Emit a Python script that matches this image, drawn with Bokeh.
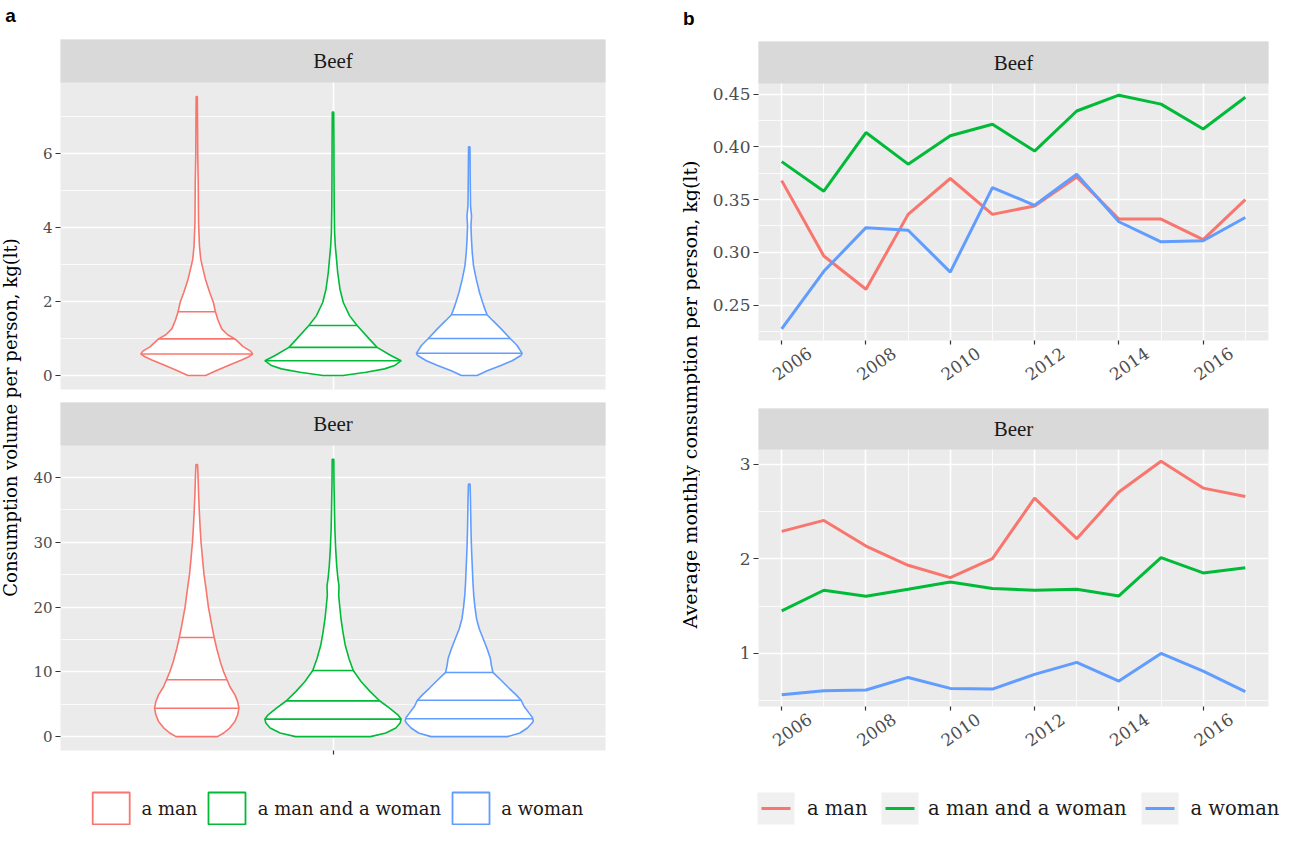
import numpy as np
from bokeh.plotting import figure
from bokeh.models import Range1d, LinearAxis, FixedTicker, Grid
from bokeh.layouts import column, row
from bokeh.embed import file_html
from bokeh.resources import INLINE
from bokeh.core.properties import value

# ---------------- data ----------------
groups = ["a man", "a man and a woman", "a woman"]
colors = ["#F8766D", "#00BA38", "#619CFF"]
products = ["Beef", "Beer"]

# panel b: average monthly consumption per person
years = [2006, 2007, 2008, 2009, 2010, 2011, 2012, 2013, 2014, 2015, 2016, 2017]
beef_man = [0.368, 0.2965, 0.265, 0.336, 0.370, 0.336, 0.344, 0.3715, 0.3315, 0.3315, 0.312, 0.350]
beef_couple = [0.386, 0.358, 0.4136, 0.3836, 0.4105, 0.4215, 0.396, 0.434, 0.449, 0.4405, 0.417, 0.447]
beef_woman = [0.2275, 0.282, 0.3234, 0.321, 0.2813, 0.3614, 0.3446, 0.374, 0.329, 0.310, 0.311, 0.333]
beer_man = [2.292, 2.408, 2.137, 1.933, 1.803, 2.003, 2.644, 2.215, 2.708, 3.035, 2.750, 2.662]
beer_couple = [1.451, 1.669, 1.606, 1.680, 1.757, 1.687, 1.669, 1.680, 1.609, 2.014, 1.852, 1.908]
beer_woman = [0.562, 0.606, 0.613, 0.746, 0.630, 0.623, 0.778, 0.905, 0.708, 1.000, 0.813, 0.595]

# panel a: violin density profiles (consumption level, relative density)
beef_man_y = [0, 0.15, 0.3, 0.42, 0.5, 0.58, 0.66, 0.78, 0.99, 1.1, 1.26, 1.5, 1.72, 1.97, 2.24,
              2.6, 2.96, 3.14, 3.5, 4.13, 4.75, 5.2, 5.9, 6.8, 7.53]
beef_man_d = [8.8, 21, 34, 45, 51.5, 56, 54, 46.5, 38.3, 31, 25, 21.3, 18.7, 16.7, 13,
              8.7, 5.5, 4.0, 2.7, 1.8, 1.6, 1.5, 1.0, 0.8, 0.6]
beef_couple_y = [0, 0.09, 0.18, 0.27, 0.40, 0.54, 0.76, 0.99, 1.35, 1.61, 1.97, 2.33, 2.78, 3.14,
                 3.5, 3.86, 4.57, 5.47, 6.37, 7.11]
beef_couple_d = [10, 33, 51.7, 61.7, 68.3, 58, 44.2, 36.3, 24.2, 16.7, 10.3, 7, 4.7, 3.5,
                 2.3, 1.6, 1.2, 1.0, 0.9, 0.7]
beef_woman_y = [0, 0.13, 0.27, 0.40, 0.54, 0.60, 0.81, 1.0, 1.26, 1.48, 1.64, 1.88, 2.24, 2.6,
                2.96, 3.32, 3.68, 4.04, 4.3, 4.57, 5.2, 6.17]
beef_woman_d = [7.8, 18, 31.7, 43, 51.7, 53, 48, 41, 32, 23.7, 17.8, 14.5, 10.3, 7,
                4.3, 3, 2.2, 1.7, 2.3, 1.3, 1.0, 0.7]
beer_man_y = [0, 0.56, 1.33, 2.35, 3.37, 4.39, 5.4, 6.44, 7.7, 8.79, 10.0, 11.5, 13.6, 15.3,
              17.2, 20, 22.8, 25, 27.4, 30, 32.5, 35, 37.6, 40.2, 42.0]
beer_man_d = [20.8, 27, 33, 38.3, 41, 42.3, 41, 38.3, 33.3, 30.3, 27, 23.7, 20, 17.5,
              15, 11.7, 9.3, 7.3, 5.8, 4.3, 3.3, 2.5, 1.8, 1.3, 0.8]
beer_couple_y = [0, 0.56, 1.33, 2.1, 2.71, 3.37, 4.39, 5.5, 6.95, 8.48, 10.2, 12.06, 14.1, 16.1,
                 18.2, 20.2, 21.8, 23.3, 24.3, 26.4, 28.9, 31.5, 34, 36.6, 39.1, 42.8]
beer_couple_d = [37.5, 53, 63, 67.3, 68.3, 65, 56.7, 47, 37.3, 28.3, 20.3, 16, 12.3, 10,
                 8, 6.7, 5.7, 6.0, 5.0, 3.7, 2.7, 2.0, 1.6, 1.3, 1.0, 0.8]
beer_woman_y = [0, 0.56, 1.33, 2.1, 2.45, 2.96, 3.63, 4.65, 5.62, 6.44, 7.46, 8.74, 9.91, 11.0,
                12.06, 13.6, 15.1, 16.65, 18.2, 20, 21.8, 23.8, 26.4, 28.9, 31.5, 34, 36.6, 39.0]
beer_woman_d = [38.3, 50.8, 58.3, 63, 64.2, 63.3, 60, 55, 52, 47, 40, 31.7, 23.7, 22.2,
                21.2, 17.8, 14, 10, 7.3, 5.7, 4.5, 3.7, 3.0, 2.3, 1.8, 1.5, 1.2, 0.8]
# quartiles (25%, 50%, 75%)
beef_quartiles = [[0.58, 0.99, 1.72], [0.40, 0.76, 1.35], [0.60, 1.00, 1.64]]
beer_quartiles = [[4.39, 8.79, 15.3], [2.71, 5.52, 10.2], [2.76, 5.62, 9.91]]

# tick labels
a_beef_ticks = [0, 2, 4, 6]
a_beef_labels = ["0", "2", "4", "6"]
a_beef_minor = [1, 3, 5, 7]
a_beer_ticks = [0, 10, 20, 30, 40]
a_beer_labels = ["0", "10", "20", "30", "40"]
a_beer_minor = [5, 15, 25, 35]
b_beef_ticks = [0.25, 0.30, 0.35, 0.40, 0.45]
b_beef_labels = ["0.25", "0.30", "0.35", "0.40", "0.45"]
b_beef_minor = [0.225, 0.275, 0.325, 0.375, 0.425]
b_beer_ticks = [1, 2, 3]
b_beer_labels = ["1", "2", "3"]
b_beer_minor = [0.5, 1.5, 2.5]
year_ticks = [2006, 2008, 2010, 2012, 2014, 2016]
year_labels = ["2006", "2008", "2010", "2012", "2014", "2016"]
year_minor = [2007, 2009, 2011, 2013, 2015, 2017]

y_title_a = "Consumption volume per person, kg(lt)"
y_title_b = "Average monthly consumption per person, kg(lt)"

# ---------------- style ----------------
SERIF = "DejaVu Serif"
STRIP_FONT = "Liberation Serif"
PANEL_BG = "#EBEBEB"
STRIP_BG = "#D9D9D9"


def expand(lo, hi, f=0.05):
    r = hi - lo
    return lo - f * r, hi + f * r


def base_fig(w, h, xr, yr, mb):
    p = figure(width=w, height=h, x_range=xr, y_range=yr, x_axis_type=None, y_axis_type=None,
               title=None, output_backend="svg", toolbar_location=None,
               min_border_left=mb[0], min_border_right=mb[1],
               min_border_top=mb[2], min_border_bottom=mb[3])
    p.outline_line_color = None
    p.border_fill_color = "white"
    return p


def facet(w, h, xr, lo, hi, mb, strip_px, label):
    frame_h = h - mb[2] - mb[3]
    panel_h = frame_h - strip_px
    top = hi + strip_px * (hi - lo) / panel_h
    p = base_fig(w, h, xr, Range1d(lo, top), mb)
    p.background_fill_color = PANEL_BG
    p.quad(left=[xr.start], right=[xr.end], bottom=[hi], top=[top],
           fill_color=STRIP_BG, line_color=None, level="annotation")
    p.text(x=[(xr.start + xr.end) / 2], y=[(hi + top) / 2], text=[label],
           text_font=value(STRIP_FONT), text_font_size=value("21px"), text_color="#1A1A1A",
           text_align="center", text_baseline="middle", level="annotation")
    return p


def add_grid(p, dim, ticks, minor):
    p.add_layout(Grid(dimension=dim, ticker=FixedTicker(ticks=ticks, minor_ticks=minor),
                      grid_line_color="white", grid_line_width=1.6,
                      minor_grid_line_color="white", minor_grid_line_width=0.8), "center")


def add_yaxis(p, ticks, labels, size):
    ax = LinearAxis(ticker=FixedTicker(ticks=ticks), major_label_overrides=dict(zip(ticks, labels)),
                    axis_line_color=None, major_tick_line_color="#333333", major_tick_line_width=1.2,
                    major_tick_out=5, major_tick_in=0, minor_tick_line_color=None,
                    major_label_standoff=3, major_label_text_font=SERIF,
                    major_label_text_font_size=size, major_label_text_color="#4D4D4D")
    p.add_layout(ax, "left")


def add_year_axes(p, xlo, xhi, shift):
    main = LinearAxis(ticker=FixedTicker(ticks=year_ticks),
                      major_label_overrides={t: "" for t in year_ticks},
                      axis_line_color=None, major_tick_line_color="#333333", major_tick_line_width=1.2,
                      major_tick_out=4, major_tick_in=0, minor_tick_line_color=None,
                      major_label_standoff=0, major_label_text_font_size="0px")
    p.add_layout(main, "below")
    p.extra_x_ranges = {"lbl": Range1d(xlo - shift, xhi - shift)}
    lab = LinearAxis(x_range_name="lbl", ticker=FixedTicker(ticks=year_ticks),
                     major_label_overrides=dict(zip(year_ticks, year_labels)),
                     axis_line_color=None, major_tick_line_color=None, major_tick_out=0,
                     major_tick_in=0, minor_tick_line_color=None, major_label_standoff=7,
                     major_label_orientation=np.radians(35), major_label_text_font=SERIF,
                     major_label_text_font_size="17px", major_label_text_color="#4D4D4D")
    p.add_layout(lab, "below")


def draw_violin(p, center, ys, ds, dmax, quarts, color):
    ys = np.asarray(ys, float)
    w = np.asarray(ds, float) / dmax * 0.15
    xs = np.concatenate([center - w, (center + w)[::-1]])
    yy = np.concatenate([ys, ys[::-1]])
    p.patch(xs, yy, fill_color="white", line_color=color, line_width=1.6)
    q = np.asarray(quarts, float)
    qw = np.interp(q, ys, w)
    p.segment(x0=center - qw, y0=q, x1=center + qw, y1=q, line_color=color, line_width=1.6)


# ---------------- panel a ----------------
xa = Range1d(0.4, 1.6)
centers = [0.7, 1.0, 1.3]

beef_prof = [(beef_man_y, beef_man_d), (beef_couple_y, beef_couple_d), (beef_woman_y, beef_woman_d)]
beer_prof = [(beer_man_y, beer_man_d), (beer_couple_y, beer_couple_d), (beer_woman_y, beer_woman_d)]

lo, hi = expand(0, max(max(v[0]) for v in beef_prof))
fa_beef = facet(622, 363, xa, lo, hi, (32, 45, 0, 13), 43, products[0])
add_grid(fa_beef, 1, a_beef_ticks, a_beef_minor)
add_grid(fa_beef, 0, [1.0], [])
add_yaxis(fa_beef, a_beef_ticks, a_beef_labels, "15px")
dmax = max(max(v[1]) for v in beef_prof)
for c, (ys, ds), qs, col in zip(centers, beef_prof, beef_quartiles, colors):
    draw_violin(fa_beef, c, ys, ds, dmax, qs, col)

lo, hi = expand(0, max(max(v[0]) for v in beer_prof))
fa_beer = facet(622, 369, xa, lo, hi, (32, 45, 0, 21), 43, products[1])
add_grid(fa_beer, 1, a_beer_ticks, a_beer_minor)
add_grid(fa_beer, 0, [1.0], [])
add_yaxis(fa_beer, a_beer_ticks, a_beer_labels, "15px")
xax = LinearAxis(ticker=FixedTicker(ticks=[1.0]), major_label_overrides={1.0: ""},
                 axis_line_color=None, major_tick_line_color="#333333", major_tick_line_width=1.2,
                 major_tick_out=4, major_tick_in=0, minor_tick_line_color=None,
                 major_label_standoff=0, major_label_text_font_size="0px")
fa_beer.add_layout(xax, "below")
dmax = max(max(v[1]) for v in beer_prof)
for c, (ys, ds), qs, col in zip(centers, beer_prof, beer_quartiles, colors):
    draw_violin(fa_beer, c, ys, ds, dmax, qs, col)

# ---------------- panel b ----------------
XLO, XHI = expand(min(years), max(years))
SHIFT = 0.67

beef_series = [beef_man, beef_couple, beef_woman]
beer_series = [beer_man, beer_couple, beer_woman]

lo, hi = expand(min(min(s) for s in beef_series), max(max(s) for s in beef_series))
fb_beef = facet(579, 369, Range1d(XLO, XHI), lo, hi, (58, 11, 2, 68), 42, products[0])
add_grid(fb_beef, 1, b_beef_ticks, b_beef_minor)
add_grid(fb_beef, 0, year_ticks, year_minor)
add_yaxis(fb_beef, b_beef_ticks, b_beef_labels, "17px")
add_year_axes(fb_beef, XLO, XHI, SHIFT)
for s, col in zip(beef_series, colors):
    fb_beef.line(years, s, line_color=col, line_width=3)

lo, hi = expand(min(min(s) for s in beer_series), max(max(s) for s in beer_series))
fb_beer = facet(579, 363, Range1d(XLO, XHI), lo, hi, (58, 11, 0, 65), 41, products[1])
add_grid(fb_beer, 1, b_beer_ticks, b_beer_minor)
add_grid(fb_beer, 0, year_ticks, year_minor)
add_yaxis(fb_beer, b_beer_ticks, b_beer_labels, "17px")
add_year_axes(fb_beer, XLO, XHI, SHIFT)
for s, col in zip(beer_series, colors):
    fb_beer.line(years, s, line_color=col, line_width=3)


# ---------------- text-only figures ----------------
def px_fig(w, h):
    p = base_fig(w, h, Range1d(0, w), Range1d(0, h), (0, 0, 0, 0))
    p.background_fill_color = "white"
    return p


header = px_fig(1279, 39)
header.text(x=[4.7, 682.5], y=[39 - 14.7, 39 - 17.7], text=["a", "b"],
            text_font=value("Liberation Sans"), text_font_style="bold",
            text_font_size=value("19px"), text_color="black",
            text_align="left", text_baseline="alphabetic")

title_a = px_fig(28, 732)
title_a.text(x=[10], y=[732 - (417 - 39)], text=[y_title_a], angle=np.pi / 2,
             text_font=value(SERIF), text_font_size=value("18px"), text_color="black",
             text_align="center", text_baseline="middle")

title_b = px_fig(50, 732)
title_b.text(x=[39.5], y=[732 - (394 - 39)], text=[y_title_b], angle=np.pi / 2,
             text_font=value(SERIF), text_font_size=value("19px"), text_color="black",
             text_align="center", text_baseline="middle")

# legends
LEG_H = 54
key_cy = LEG_H - 37

leg_a = px_fig(650, LEG_H)
keys_a = [92.2, 208.0, 452.0]
text_a = [141.0, 257.3, 500.7]
leg_a.rect(x=[k + 18.5 for k in keys_a], y=[key_cy] * 3, width=37, height=32,
           fill_color="white", line_color=colors, line_width=1.8)
leg_a.text(x=text_a, y=[key_cy] * 3, text=groups, text_font=value(SERIF),
           text_font_size=value("18px"), text_color="#1A1A1A",
           text_align="left", text_baseline="middle")

leg_b = px_fig(629, LEG_H)
keys_b = [107.0, 231.0, 491.0]
text_b = [156.5, 277.6, 540.0]
leg_b.rect(x=[k + 18.5 for k in keys_b], y=[key_cy] * 3, width=37, height=32,
           fill_color="#F0F0F0", line_color=None)
leg_b.segment(x0=[k + 4 for k in keys_b], y0=[key_cy] * 3, x1=[k + 33 for k in keys_b],
              y1=[key_cy] * 3, line_color=colors, line_width=3)
leg_b.text(x=text_b, y=[key_cy] * 3, text=groups, text_font=value(SERIF),
           text_font_size=value("19.5px"), text_color="#1A1A1A",
           text_align="left", text_baseline="middle")

layout = column(
    header,
    row(title_a, column(fa_beef, fa_beer), title_b, column(fb_beef, fb_beer)),
    row(leg_a, leg_b),
)

open("out.html", "w").write(file_html(layout, INLINE))
